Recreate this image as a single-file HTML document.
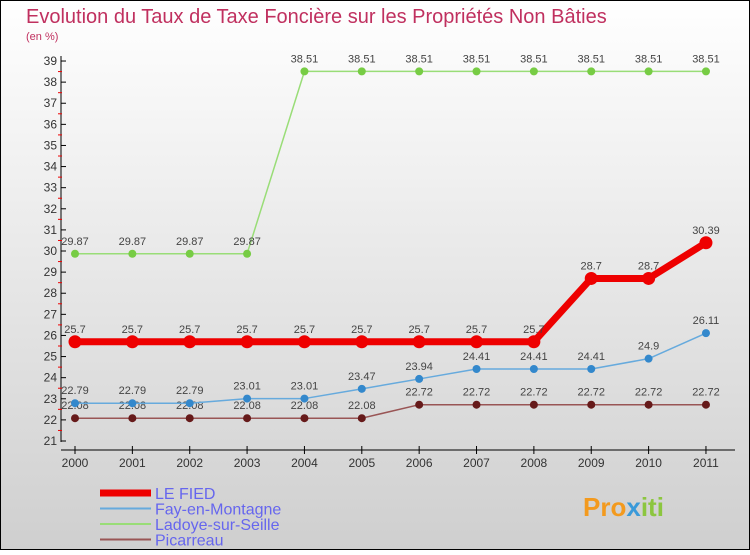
<!DOCTYPE html>
<html><head><meta charset="utf-8"><style>
html,body{margin:0;padding:0}
body{width:750px;height:550px;overflow:hidden;font-family:"Liberation Sans",sans-serif}
</style></head><body>
<svg width="750" height="550" xmlns="http://www.w3.org/2000/svg" id="svg">
<defs><linearGradient id="bg" x1="0" y1="0" x2="0" y2="1"><stop offset="0" stop-color="#ffffff"/><stop offset="1" stop-color="#cfcfcf"/></linearGradient></defs>
<rect x="0.5" y="0.5" width="749" height="549" fill="url(#bg)" stroke="#000"/>
<text x="26" y="23" font-size="20" fill="#c0305f">Evolution du Taux de Taxe Foncière sur les Propriétés Non Bâties</text>
<text x="26" y="40" font-size="11" fill="#c0305f">(en %)</text>
<g id="axes"></g><g id="series"></g><g id="legend"></g>
<text x="583" y="516" font-size="26" font-weight="bold" fill="#f39a1e">Pro<tspan fill="#3a9ad9">x</tspan><tspan fill="#8cc63f">iti</tspan></text>
</svg>
<script>
const years=['2000','2001','2002','2003','2004','2005','2006','2007','2008','2009','2010','2011'];
const leFied=[25.7,25.7,25.7,25.7,25.7,25.7,25.7,25.7,25.7,28.7,28.7,30.39];
const fay=[22.79,22.79,22.79,23.01,23.01,23.47,23.94,24.41,24.41,24.41,24.9,26.11];
const ladoye=[29.87,29.87,29.87,29.87,38.51,38.51,38.51,38.51,38.51,38.51,38.51,38.51];
const picarreau=[22.08,22.08,22.08,22.08,22.08,22.08,22.72,22.72,22.72,22.72,22.72,22.72];
const yTicks=[21,22,23,24,25,26,27,28,29,30,31,32,33,34,35,36,37,38,39];
const NS='http://www.w3.org/2000/svg';
const x=i=>75+i*57.36;
const y=v=>441-(v-21)*21.11;
function mk(t,a,p){const e=document.createElementNS(NS,t);for(const k in a)e.setAttribute(k,a[k]);p.appendChild(e);return e;}
const axes=document.getElementById('axes');
const ya=mk('line',{x1:61,y1:56,x2:61,y2:442,stroke:'#000','stroke-width':1},axes);

const xa=mk('line',{x1:61,y1:450,x2:735,y2:450,stroke:'#000','stroke-width':1},axes);

yTicks.forEach(v=>{
 mk('line',{x1:61,y1:y(v),x2:66,y2:y(v),stroke:'#000'},axes);
 if(v<39)mk('line',{x1:58,y1:y(v+0.5),x2:62,y2:y(v+0.5),stroke:'#e00'},axes);
 const t=mk('text',{x:57,y:y(v)+4,'font-size':12,'text-anchor':'end',fill:'#333'},axes);t.textContent=v;
 
});
years.forEach((yr,i)=>{
 mk('line',{x1:x(i),y1:446,x2:x(i),y2:454,stroke:'#000'},axes);
 const t=mk('text',{x:x(i),y:467,'font-size':12,'text-anchor':'middle',fill:'#333'},axes);t.textContent=yr;
 
});
const ser=document.getElementById('series');
function draw(vals,color,dot,w,r,name,fmt){
 const g=mk('g',{},ser);
 mk('polyline',{points:vals.map((v,i)=>x(i)+','+y(v)).join(' '),fill:'none',stroke:color,'stroke-width':w,'stroke-linejoin':'round'},g);
 vals.forEach((v,i)=>{
  const c=mk('circle',{cx:x(i),cy:y(v),r:r,fill:dot},g);
  
  const t=mk('text',{x:x(i),y:y(v)-9,'font-size':11,'text-anchor':'middle',fill:'#444'},g);t.textContent=String(v).replace('.','.');
  
 });
}
draw(ladoye,'#99dd77','#77cc44',1.5,4,'ladoye-sur-seille');
draw(picarreau,'#995555','#661a1a',1.5,4,'picarreau');
draw(fay,'#66aadd','#3388cc',1.5,4,'fay-en-montagne');
draw(leFied,'#ee0000','#ee0000',7,6.5,'le-fied');
const lg=document.getElementById('legend');
[['LE FIED','#ee0000',7],['Fay-en-Montagne','#66aadd',2],['Ladoye-sur-Seille','#99dd77',2],['Picarreau','#995555',2]].forEach((e,i)=>{
 const yy=493+i*15.5;
 const g=mk('g',{},lg);
 mk('line',{x1:100,y1:yy,x2:151,y2:yy,stroke:e[1],'stroke-width':e[2]},g);
 const t=mk('text',{x:155,y:yy+6,'font-size':16,fill:'#6666ee'},g);t.textContent=e[0];
});
</script>
</body></html>
